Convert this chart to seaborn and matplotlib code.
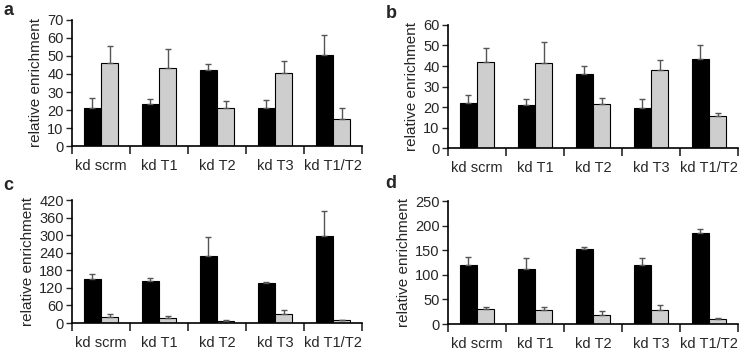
import numpy as np
import pandas as pd
import matplotlib
matplotlib.use("Agg")
import matplotlib.pyplot as plt
import seaborn as sns

sns.set_style("ticks")
plt.rcParams['font.family'] = ['Liberation Sans', 'DejaVu Sans']

categories = ["kd scrm", "kd T1", "kd T2", "kd T3", "kd T1/T2"]

# panel values: black series, gray series, and top of the upper error bar
a_black = [21, 23.5, 42, 21, 50.5]
a_gray = [46, 43.5, 21, 40.5, 15]
a_black_top = [26.5, 26, 45.5, 25.5, 61.5]
a_gray_top = [55.5, 54, 25, 47, 21]

b_black = [22, 21, 36, 19.5, 43.5]
b_gray = [42, 41.5, 21.5, 38, 15.5]
b_black_top = [26, 24, 40, 24, 50]
b_gray_top = [49, 51.5, 24.5, 43, 17]

c_black = [150, 145, 230, 135, 298]
c_gray = [22, 18, 8, 30, 12]
c_black_top = [168, 153, 293, 141, 382]
c_gray_top = [30, 25, 11, 45, 12]

d_black = [119, 111, 152, 119, 184]
d_gray = [31, 28, 19, 28, 11]
d_black_top = [136, 135, 157, 135, 194]
d_gray_top = [34, 34, 27, 38, 12]

panels = [
    ("a", a_black, a_gray, a_black_top, a_gray_top, 70, 10,
     [0.0961, 0.5887, 0.3872, 0.355], (0.005, 0.958)),
    ("b", b_black, b_gray, b_black_top, b_gray_top, 60, 10,
     [0.598, 0.583, 0.3872, 0.3466], (0.515, 0.949)),
    ("c", c_black, c_gray, c_black_top, c_gray_top, 420, 60,
     [0.0961, 0.0901, 0.3872, 0.3465], (0.005, 0.465)),
    ("d", d_black, d_gray, d_black_top, d_gray_top, 250, 50,
     [0.598, 0.0873, 0.3872, 0.3465], (0.515, 0.470)),
]

fig = plt.figure(figsize=(7.49, 3.55), dpi=100)

for letter, blk, gry, blk_top, gry_top, ymax, ystep, rect, lpos in panels:
    ax = fig.add_axes(rect)
    df = pd.DataFrame({
        "group": categories * 2,
        "series": ["black"] * 5 + ["gray"] * 5,
        "value": blk + gry,
        "top": blk_top + gry_top,
    })
    sns.barplot(data=df, x="group", y="value", hue="series", order=categories,
                hue_order=["black", "gray"], palette=["#000000", "#cecece"],
                width=0.6, errorbar=None, edgecolor="black", linewidth=0.8,
                legend=False, ax=ax)
    # upper error bars placed on the drawn bars
    bars = ax.patches[:10]
    for p, val, top in zip(bars, df["value"], df["top"]):
        xc = p.get_x() + p.get_width() / 2
        ax.errorbar(xc, val, yerr=[[0], [top - val]], fmt="none",
                    ecolor="#555555", elinewidth=1.0, capsize=2.5, capthick=1.0)
    ax.set_xlim(-0.5, 4.5)
    ax.set_ylim(0, ymax)
    ax.set_yticks(np.arange(0, ymax + 1, ystep))
    ax.set_xticks(np.arange(-0.5, 5, 1.0))
    ax.set_xticklabels([])
    ax.set_xticks(range(5), minor=True)
    ax.set_xticklabels(categories, minor=True, fontsize=10.5)
    ax.tick_params(axis="x", which="minor", length=0, pad=9)
    ax.tick_params(axis="x", which="major", length=6, width=1.2, direction="out")
    ax.tick_params(axis="y", length=4, width=1.0, labelsize=10.5, pad=2)
    ax.set_xlabel("")
    ax.set_ylabel("relative enrichment", fontsize=11, labelpad=3)
    sns.despine(ax=ax)
    for s in ["left", "bottom"]:
        ax.spines[s].set_linewidth(1.2)
        ax.spines[s].set_color("black")
    fig.text(lpos[0], lpos[1], letter, fontsize=13, fontweight="bold",
             va="baseline", ha="left")

fig.savefig("out.png", dpi=100)
